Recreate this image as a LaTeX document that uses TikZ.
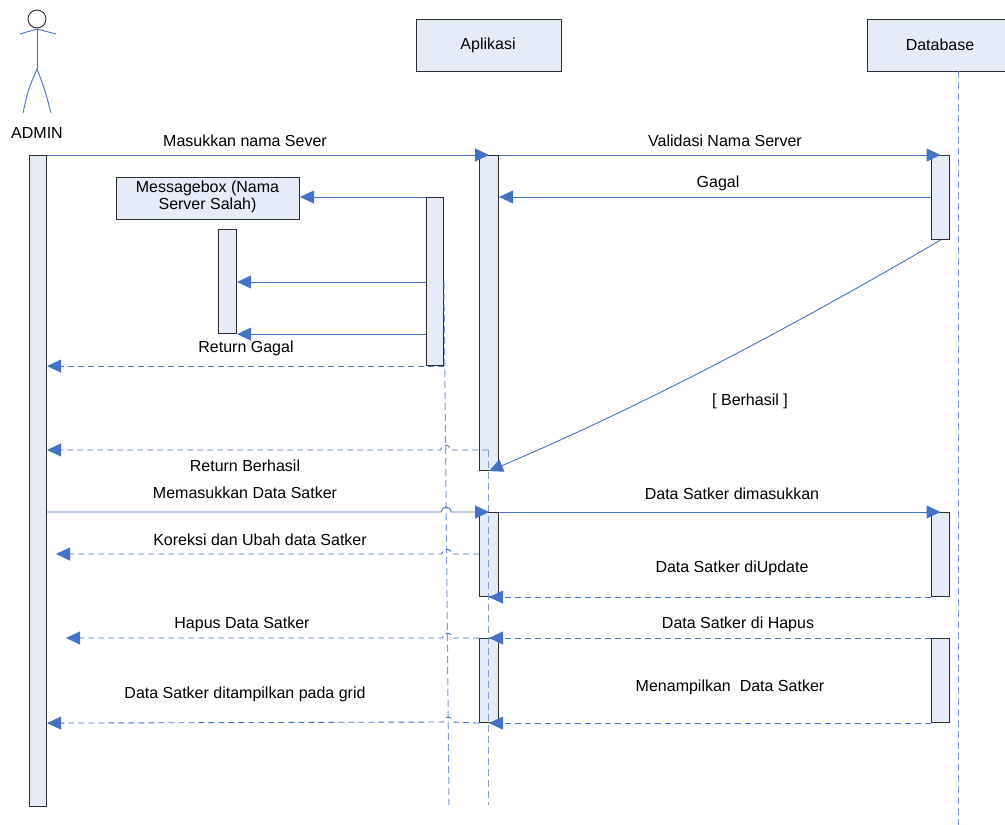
\documentclass[tikz,border=0pt]{standalone}
\usepackage{fontspec}
\setmainfont{Liberation Sans}
\usetikzlibrary{arrows.meta}
\definecolor{lineblue}{RGB}{68,114,196}
\definecolor{lifeblue}{RGB}{125,155,215}
\definecolor{boxfill}{RGB}{230,236,247}
\definecolor{boxedge}{RGB}{45,45,45}
\tikzset{
  act/.style={draw=boxedge, fill=boxfill, line width=1.1pt, inner sep=0pt, minimum width=18pt, anchor=north west},
  partbox/.style={draw=boxedge, fill=boxfill, line width=1.1pt, inner sep=0pt, anchor=north west},
  msg/.style={draw=lineblue, line width=0.9pt, -{Triangle[length=14pt,width=13pt]}},
  ret/.style={msg, dash pattern=on 6pt off 4pt},
  life/.style={draw=lifeblue, line width=1pt, dash pattern=on 7pt off 4pt},
  lbl/.style={inner sep=0pt, font=\fontsize{16}{18.5}\selectfont},
}
\begin{document}
\begin{tikzpicture}[x=1pt,y=-1pt]
\useasboundingbox (0,0) rectangle (1005,825);
% participants
\node[partbox, minimum width=145pt, minimum height=52pt] (apl) at (416,19) {};
\node[lbl] (aplt) at (488,45) {Aplikasi};
\node[partbox, minimum width=150pt, minimum height=52pt] (db) at (867,19) {};
\node[lbl] (dbt) at (940,45) {Database};
% actor
\draw[boxedge, line width=0.9pt] (37,19) circle[radius=9pt];
\draw[lineblue, line width=0.9pt] (20,34) -- (37,29) -- (56,34);
\draw[lineblue, line width=0.9pt] (37,29) -- (37,69);
\draw[lineblue, line width=0.9pt] (23,113) .. controls (28,90) .. (37,69) .. controls (45,90) .. (51,113);
\node[lbl] (adminl) at (37,133) {ADMIN};
% lifelines
\coordinate (dbtop) at (958,71);
\coordinate (dbbot) at (958,830);
\draw[life] (dbtop) -- (dbbot);
% activations
\node[act, minimum width=17pt, minimum height=651pt] (aA) at (29,155) {};
\node[act, minimum width=19pt, minimum height=315pt] (ap1) at (479,155) {};
\node[act, minimum height=84pt] (db1) at (931,155) {};
\node[act, minimum width=17pt, minimum height=168pt] (inner) at (426,197) {};
\node[partbox, minimum width=183pt, minimum height=42pt] (mb) at (116,177) {};
\node[lbl, align=center] (mbt) at (207.5,197) {Messagebox (Nama\\[-1.5pt]Server Salah)};
\node[act, minimum height=104pt] (small) at (218,229) {};
\node[act, minimum width=19pt, minimum height=84pt] (ap2) at (479,512) {};
\node[act, minimum height=84pt] (db2) at (931,512) {};
\node[act, minimum width=19pt, minimum height=84pt] (ap3) at (479,638) {};
\node[act, minimum height=84pt] (db3) at (931,638) {};
% inner and application lifelines
\coordinate (intop) at (444,282);
\coordinate (inbot) at (449,805);
\draw[life] (intop) -- (inbot);
\coordinate (rb) at (488,450);
\coordinate (apbot) at (488,805);
\draw[life] (rb) -- (apbot);
% helper coordinates
\coordinate (y282) at (0,282);
\coordinate (y554) at (0,554);
\coordinate (tipK) at (56,554);
\coordinate (tipH) at (66,638);
% messages
\draw[msg] (aA.north east) -- (ap1.north);
\draw[msg] (ap1.north east) -- (db1.north);
\draw[msg] (db1.west |- inner.north) -- (ap1.east |- inner.north);
\draw[msg] (inner.north west) -- (mb.east |- inner.north);
\draw[msg] (inner.west |- y282) -- (small.east |- y282);
\draw[msg] (inner.west |- small.south) -- (small.south east);
\draw[ret] (inner.south east) -- (aA.east |- inner.south);
\draw[msg] (db1.south) .. controls (795,325) and (647,404) .. (ap1.south);
\draw[ret] (rb) -- (450.6,450) arc[start angle=0,end angle=180,radius=5pt] -- (aA.east |- rb);
\draw[msg] (aA.east |- ap2.north) -- (441.2,512) arc[start angle=180,end angle=0,radius=5pt] -- (ap2.north);
\draw[msg] (ap2.north east) -- (db2.north);
\draw[ret] (db2.south west) -- (ap2.south);
\draw[ret] (ap2.west |- y554) -- (451.6,554) arc[start angle=0,end angle=180,radius=5pt] -- (tipK);
\draw[ret] (db3.north west) -- (ap3.north);
\draw[ret] (ap3.north west) -- (452.4,638) arc[start angle=0,end angle=180,radius=5pt] -- (tipH);
\draw[ret] (db3.south west) -- (ap3.south);
\draw[ret] (ap3.south west) -- (453.2,722) arc[start angle=0,end angle=180,radius=5pt] -- (aA.east |- ap3.south);
% labels
\node[lbl] (l1) at (245,141) {Masukkan nama Sever};
\node[lbl] (l2) at (725,141) {Validasi Nama Server};
\node[lbl] (l3) at (718,183) {Gagal};
\node[lbl] (l4) at (246,348) {Return Gagal};
\node[lbl] (l5) at (750,401) {[ Berhasil ]};
\node[lbl] (l6) at (245,466) {Return Berhasil};
\node[lbl] (l7) at (245,493) {Memasukkan Data Satker};
\node[lbl] (l8) at (732,494) {Data Satker dimasukkan};
\node[lbl] (l9) at (260,540) {Koreksi dan Ubah data Satker};
\node[lbl] (l10) at (732,568) {Data Satker diUpdate};
\node[lbl] (l11) at (242,624) {Hapus Data Satker};
\node[lbl] (l12) at (738,624) {Data Satker di Hapus};
\node[lbl] (l13) at (245,694) {Data Satker ditampilkan pada grid};
\node[lbl] (l14) at (730,687) {Menampilkan\ \ Data Satker};
\end{tikzpicture}
\end{document}
